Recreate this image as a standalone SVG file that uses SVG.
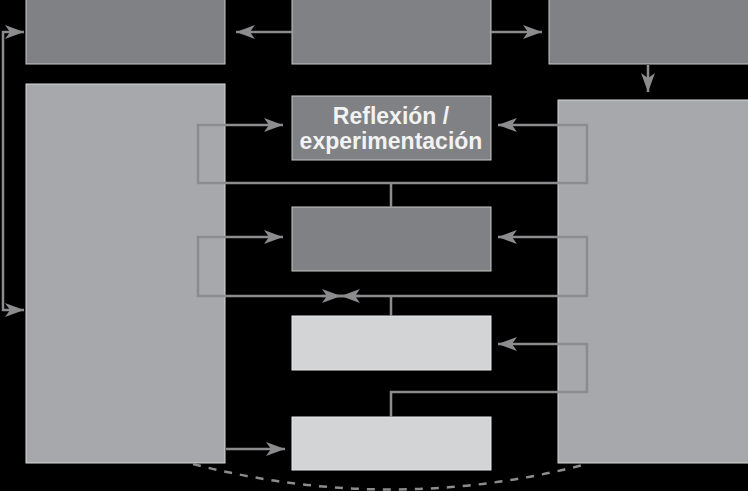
<svg xmlns="http://www.w3.org/2000/svg" width="748" height="491" viewBox="0 0 748 491">
<defs>
<style>
.dark{fill:#808184;stroke:#c8c8c8;stroke-width:1}
.mid{fill:#a7a8ab;stroke:#d8d8d8;stroke-width:1}
.light{fill:#d3d4d6;stroke:#e8e8e8;stroke-width:1}
.conn{fill:none;stroke:#8c8c8e;stroke-width:2.5}
.dash{fill:none;stroke:#8c8c8e;stroke-width:2.5;stroke-dasharray:8 8}
.lbl{font-family:"Liberation Sans",Arial,sans-serif;font-weight:bold;font-size:23px;fill:#f2f2f2;text-anchor:middle}
</style>
<marker id="ah" markerUnits="userSpaceOnUse" markerWidth="20" markerHeight="16" viewBox="0 -8 20 16" refX="19" refY="0" orient="auto-start-reverse">
<path d="M0,-7 L19,0 L0,7 L5,0 Z" fill="#8c8c8e"/>
</marker>
</defs>
<rect width="748" height="491" fill="#000"/>
<g id="top-left"><rect class="dark" x="26" y="-2" width="199" height="66"/></g>
<g id="top-middle"><rect class="dark" x="292" y="-2" width="199" height="66"/></g>
<g id="top-right"><rect class="dark" x="549" y="-2" width="201" height="66"/></g>
<g id="left-big"><rect class="mid" x="26" y="84" width="199" height="379"/></g>
<g id="right-big"><rect class="mid" x="558" y="100" width="192" height="363"/></g>
<g id="reflexion"><rect class="dark" x="292" y="96" width="199" height="64"/>
<text class="lbl" x="391" y="124">Reflexión /</text>
<text class="lbl" x="391" y="149">experimentación</text></g>
<g id="box2"><rect class="dark" x="292" y="207" width="199" height="64"/></g>
<g id="box3"><rect class="light" x="292" y="316" width="199" height="54"/></g>
<g id="box4"><rect class="light" x="292" y="417" width="199" height="53"/></g>
<g id="connectors">
<path class="conn" d="M292,32 H236" marker-end="url(#ah)"/>
<path class="conn" d="M491,32 H542" marker-end="url(#ah)"/>
<path class="conn" d="M648,65 V92" marker-end="url(#ah)"/>
<path class="conn" d="M24,32 H3 V310 H24" marker-start="url(#ah)" marker-end="url(#ah)"/>
<path class="conn" d="M283,125 H198 V183 H587 V125 H498" marker-start="url(#ah)" marker-end="url(#ah)"/>
<path class="conn" d="M391,183 V207"/>
<path class="conn" d="M283,237 H198 V296 H587 V237 H498" marker-start="url(#ah)" marker-end="url(#ah)"/>
<path class="conn" d="M322,296 H341" marker-end="url(#ah)"/>
<path class="conn" d="M360,296 H341" marker-end="url(#ah)"/>
<path class="conn" d="M391,296 V316"/>
<path class="conn" d="M498,344 H587 V392 H391 V417" marker-start="url(#ah)"/>
<path class="conn" d="M226,449 H285" marker-end="url(#ah)"/>
<path class="dash" d="M193,464 Q391,515 587,464"/>
</g>
</svg>
